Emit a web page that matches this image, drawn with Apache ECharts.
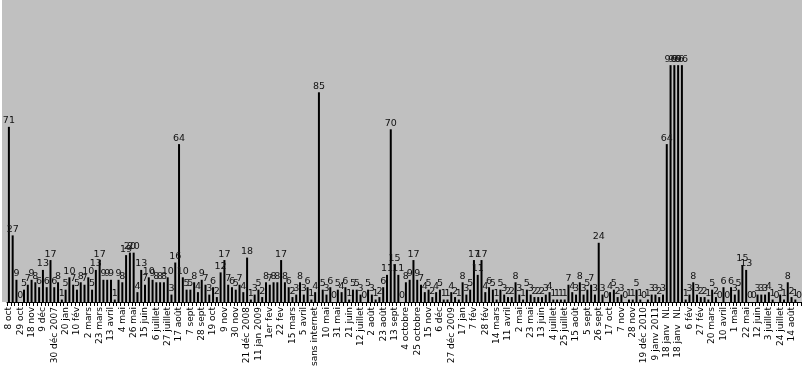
<!DOCTYPE html>
<html>
<head>
<meta charset="utf-8">
<script src="https://cdn.jsdelivr.net/npm/echarts@6/dist/echarts.min.js"></script>
<style>html,body{margin:0;padding:0;background:#fff}#c{width:811px;height:378px}</style>
</head>
<body>
<div id="c"></div>
<script>
const tickLabels = ["8 oct","29 oct","18 nov","9 déc","30 déc 2007","20 jan","10 fév","2 mars","23 mars","13 avril",
"4 mai","26 mai","15 juin","6 juillet","27 juillet","17 août","7 sept","28 sept","19 oct","9 nov",
"30 nov","21 déc 2008","11 jan 2009","1er fev","22 fev","15 mars","5 avril","sans internet","10 mai","31 mai",
"21 juin","12 juillet","2 août","23 août","13 sept","4 octobre","25 octobre","15 nov","6 déc","27 déc 2009",
"17 jan","7 fév","28 fév","14 mars","11 avril","2 mai","23 mai","13 juin","4 juillet","25 juillet",
"15 août","5 sept","26 sept","17 oct","7 nov","28 nov","19 déc 2010","9 janv 2011","18 janv  NL","18 janv  NL",
"6 fév","27 fév","20 mars","10 avril","1 mai","22 mai","12 juin","3 juillet","24 juillet","14 août"];

const values = [
71,27,9,0,5,7,9,8,6,13,
6,17,6,8,1,5,10,7,5,8,
7,10,5,13,17,9,9,9,1,9,
8,19,20,20,4,13,7,10,9,8,
8,8,10,3,16,64,10,5,5,8,
4,9,7,3,6,2,12,17,7,6,
5,7,4,18,1,3,5,2,8,7,
8,8,17,8,6,2,3,8,3,6,
1,4,85,5,3,6,0,5,4,6,
1,5,5,3,0,5,3,1,2,6,
11,70,15,11,0,8,9,17,9,7,
4,5,2,4,5,1,1,4,2,1,
8,3,5,17,11,17,4,6,5,1,
5,3,2,2,8,3,1,5,3,2,
2,2,3,4,1,1,1,1,7,4,
3,8,3,5,7,3,24,3,0,4,
5,2,3,0,1,1,5,1,0,1,
3,3,2,3,64,96,96,96,96,1,
3,8,3,2,2,1,5,2,0,6,
0,6,3,5,15,13,0,0,3,3,
3,4,1,0,3,1,8,2,1,0];

const categories = values.map((v, i) => (i % 3 === 0 && tickLabels[i / 3] !== undefined) ? tickLabels[i / 3] : '');

const chart = echarts.init(document.getElementById('c'), null, {renderer: 'canvas'});
chart.setOption({
  animation: false,
  backgroundColor: '#ffffff',
  graphic: [{
    type: 'rect', z: -10, silent: true,
    shape: {x: 2, y: 0, width: 800, height: 302},
    style: {fill: '#c0c0c0'}
  }],
  grid: {left: 7, right: 10, top: 1, bottom: 76, containLabel: false, show: false},
  xAxis: {
    type: 'category',
    data: categories,
    axisLine: {show: true, lineStyle: {color: '#000', width: 1}},
    axisTick: {show: true, interval: 0, length: 4, lineStyle: {color: '#000'}},
    axisLabel: {
      interval: 0, rotate: 90, margin: 5,
      fontFamily: 'DejaVu Sans', fontSize: 9, color: '#000'
    },
    splitLine: {show: false}
  },
  yAxis: {
    type: 'value', min: 0, max: 122,
    show: false, splitLine: {show: false}
  },
  series: [{
    type: 'bar',
    data: values,
    barWidth: 2,
    itemStyle: {color: '#000'},
    label: {
      show: true, position: 'top', distance: 1,
      fontFamily: 'DejaVu Sans', fontSize: 9.5, color: '#111'
    }
  }]
});
</script>
</body>
</html>
